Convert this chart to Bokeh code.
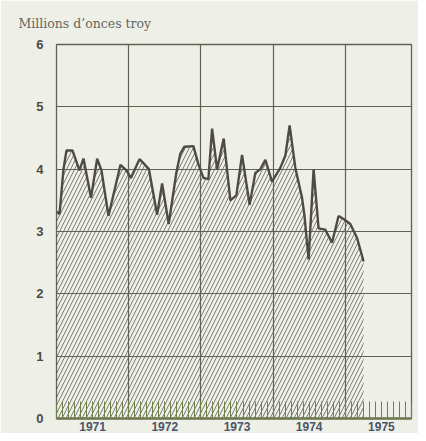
from bokeh.plotting import figure
from bokeh.models import FixedTicker, Range1d
from bokeh.embed import file_html
from bokeh.resources import INLINE

# Data (decimal year, millions of troy ounces)
years = [1971.007, 1971.042, 1971.097, 1971.138, 1971.221, 1971.318, 1971.374,
         1971.478, 1971.563, 1971.623, 1971.720, 1971.886, 1971.969,
         1972.031, 1972.149, 1972.218, 1972.280, 1972.394, 1972.463, 1972.554,
         1972.661, 1972.716, 1972.772, 1972.896, 1972.965,
         1973.035, 1973.104, 1973.155, 1973.224, 1973.316, 1973.408, 1973.491,
         1973.570, 1973.675, 1973.754, 1973.824, 1973.893, 1973.985,
         1974.100, 1974.170, 1974.229, 1974.308, 1974.401, 1974.433, 1974.492,
         1974.561, 1974.630, 1974.723, 1974.816, 1974.907, 1974.977,
         1975.069, 1975.162, 1975.253]
values = [3.32, 3.28, 4.00, 4.30, 4.30, 3.98, 4.17,
          3.54, 4.17, 3.98, 3.25, 4.07, 3.98,
          3.86, 4.16, 4.08, 4.00, 3.27, 3.77, 3.12,
          3.95, 4.25, 4.36, 4.37, 4.08,
          3.86, 3.84, 4.65, 4.00, 4.49, 3.50, 3.58,
          4.23, 3.43, 3.94, 4.00, 4.15, 3.80,
          4.02, 4.22, 4.70, 4.02, 3.54, 3.27, 2.55,
          4.00, 3.05, 3.03, 2.82, 3.25, 3.20,
          3.12, 2.90, 2.52]

year_labels = ["1971", "1972", "1973", "1974", "1975"]
year_centers = [1971.5, 1972.5, 1973.5, 1974.5, 1975.5]
year_bounds = [1972, 1973, 1974, 1975]
y_ticks = [0, 1, 2, 3, 4, 5, 6]
title_text = "Millions d\u2019onces troy"

BG = "#eef0e7"
GRID = "#5f6152"

p = figure(width=418, height=433, output_backend="svg", toolbar_location=None,
           x_range=Range1d(1971, 1975.917), y_range=Range1d(0, 6),
           min_border_left=56, min_border_right=7, min_border_top=43,
           min_border_bottom=15)
p.background_fill_color = BG
p.border_fill_color = BG
p.outline_line_color = GRID
p.outline_line_width = 1.3

p.title.text = title_text
p.title.align = "left"
p.title.offset = -38
p.title.standoff = 27
p.title.text_font = "DejaVu Serif"
p.title.text_font_style = "normal"
p.title.text_font_size = "12.5px"
p.title.text_color = "#66665f"

p.varea(x=years, y1=0, y2=values, fill_alpha=0.0,
        hatch_pattern="/", hatch_scale=8, hatch_weight=0.8,
        hatch_color="#5f5f58")
p.line(years, values, line_color="#4f4a44", line_width=2.4)

months = [1971 + m / 12 for m in range(60)]
xa = p.xaxis[0]
xa.ticker = FixedTicker(ticks=year_centers, minor_ticks=months)
xa.major_label_overrides = {c: l for c, l in zip(year_centers, year_labels)}
xa.major_tick_in = 0
xa.major_tick_out = 0
xa.minor_tick_in = 17
xa.minor_tick_out = 0
xa.minor_tick_line_color = "#6f8048"
xa.minor_tick_line_width = 1
xa.axis_line_color = "#6f7a52"
xa.axis_line_width = 2.5
xa.major_label_standoff = 3
xa.major_label_text_font = "Liberation Sans"
xa.major_label_text_font_style = "bold"
xa.major_label_text_font_size = "12px"
xa.major_label_text_color = "#4a5468"

ya = p.yaxis[0]
ya.ticker = FixedTicker(ticks=y_ticks)
ya.axis_line_color = None
ya.major_tick_line_color = None
ya.minor_tick_line_color = None
ya.major_label_standoff = 7
ya.major_label_text_font = "Liberation Sans"
ya.major_label_text_font_style = "bold"
ya.major_label_text_font_size = "13px"
ya.major_label_text_color = "#4b4b48"

p.xgrid.ticker = FixedTicker(ticks=year_bounds)
p.xgrid.grid_line_color = GRID
p.xgrid.grid_line_width = 1.2
p.ygrid.grid_line_color = GRID
p.ygrid.grid_line_width = 1.2

open("out.html", "w").write(file_html(p, INLINE))
